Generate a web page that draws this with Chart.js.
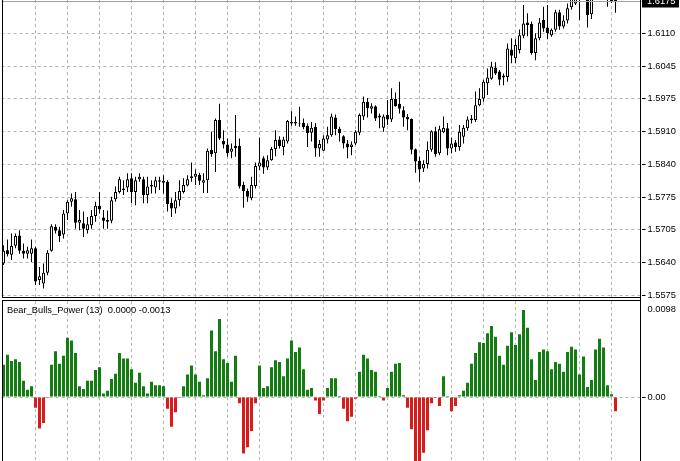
<!DOCTYPE html>
<html>
<head>
<meta charset="utf-8">
<script src="https://cdn.jsdelivr.net/npm/chart.js@4.4.0/dist/chart.umd.min.js"></script>
<style>
html, body { margin: 0; padding: 0; background: #fff; }
#wrap { position: relative; width: 680px; height: 461px; overflow: hidden; }
#priceChart { position: absolute; left: 0; top: 0; }
#powerChart { position: absolute; left: 0; top: 299px; }
</style>
</head>
<body>
<div id="wrap">
  <canvas id="priceChart" width="680" height="299"></canvas>
  <canvas id="powerChart" width="680" height="162"></canvas>
</div>
<script>
// Candles
const opens = [
  1.5640, 1.5667, 1.5658, 1.5676, 1.5697, 1.5666, 1.5660, 1.5660, 1.5671, 1.5606,
  1.5599, 1.5621, 1.5666, 1.5715, 1.5708, 1.5699, 1.5742, 1.5766, 1.5771, 1.5723,
  1.5722, 1.5708, 1.5718, 1.5737, 1.5758, 1.5734, 1.5729, 1.5727, 1.5771, 1.5786,
  1.5793, 1.5795, 1.5814, 1.5786, 1.5812, 1.5812, 1.5780, 1.5797, 1.5795, 1.5807,
  1.5809, 1.5807, 1.5764, 1.5752, 1.5769, 1.5786, 1.5799, 1.5814, 1.5817, 1.5821,
  1.5805, 1.5810, 1.5872, 1.5865, 1.5933, 1.5890, 1.5883, 1.5868, 1.5876, 1.5880,
  1.5800, 1.5788, 1.5773, 1.5798, 1.5838, 1.5855, 1.5836, 1.5851, 1.5874, 1.5893,
  1.5878, 1.5889, 1.5926, 1.5929, 1.5926, 1.5927, 1.5921, 1.5907, 1.5919, 1.5875,
  1.5870, 1.5893, 1.5902, 1.5938, 1.5915, 1.5900, 1.5885, 1.5878, 1.5885, 1.5907,
  1.5940, 1.5970, 1.5956, 1.5961, 1.5942, 1.5917, 1.5943, 1.5934, 1.5976, 1.5966,
  1.5953, 1.5939, 1.5935, 1.5873, 1.5850, 1.5834, 1.5843, 1.5872, 1.5910, 1.5865,
  1.5908, 1.5916, 1.5875, 1.5887, 1.5878, 1.5899, 1.5916, 1.5933, 1.5933, 1.5963,
  1.5977, 1.6008, 1.6017, 1.6040, 1.6032, 1.6020, 1.6021, 1.6077, 1.6059, 1.6076,
  1.6105, 1.6132, 1.6129, 1.6070, 1.6100, 1.6137, 1.6122, 1.6106, 1.6117, 1.6153,
  1.6124, 1.6136, 1.6163, 1.6171, 1.6195, 1.6190, 1.6195, 1.6149, 1.6190, 1.6200,
  1.6195, 1.6185, 1.6190, 1.6185
];
const highs = [
  1.5677, 1.5689, 1.5701, 1.5701, 1.5708, 1.5681, 1.5674, 1.5689, 1.5674, 1.5633,
  1.5640, 1.5667, 1.5720, 1.5720, 1.5715, 1.5749, 1.5769, 1.5783, 1.5786, 1.5749,
  1.5746, 1.5735, 1.5749, 1.5766, 1.5786, 1.5749, 1.5748, 1.5776, 1.5797, 1.5817,
  1.5810, 1.5824, 1.5824, 1.5817, 1.5824, 1.5817, 1.5817, 1.5810, 1.5817, 1.5817,
  1.5820, 1.5810, 1.5773, 1.5786, 1.5810, 1.5814, 1.5820, 1.5846, 1.5832, 1.5825,
  1.5824, 1.5875, 1.5909, 1.5936, 1.5966, 1.5912, 1.5895, 1.5885, 1.5943, 1.5895,
  1.5807, 1.5793, 1.5817, 1.5846, 1.5897, 1.5859, 1.5861, 1.5878, 1.5912, 1.5900,
  1.5899, 1.5933, 1.5951, 1.5940, 1.5960, 1.5936, 1.5926, 1.5929, 1.5927, 1.5892,
  1.5902, 1.5919, 1.5946, 1.5944, 1.5919, 1.5902, 1.5892, 1.5889, 1.5912, 1.5946,
  1.5981, 1.5978, 1.5967, 1.5963, 1.5946, 1.5944, 1.5974, 1.5998, 1.5989, 1.6011,
  1.5961, 1.5945, 1.5936, 1.5875, 1.5858, 1.5851, 1.5889, 1.5912, 1.5919, 1.5921,
  1.5940, 1.5927, 1.5897, 1.5892, 1.5923, 1.5923, 1.5940, 1.5943, 1.5991, 1.5998,
  1.6015, 1.6038, 1.6052, 1.6051, 1.6035, 1.6028, 1.6089, 1.6100, 1.6098, 1.6118,
  1.6168, 1.6151, 1.6134, 1.6110, 1.6141, 1.6164, 1.6168, 1.6120, 1.6158, 1.6158,
  1.6147, 1.6171, 1.6192, 1.6195, 1.6200, 1.6205, 1.6205, 1.6200, 1.6215, 1.6220,
  1.6212, 1.6210, 1.6200, 1.6190
];
const lows = [
  1.5637, 1.5654, 1.5647, 1.5671, 1.5660, 1.5650, 1.5650, 1.5643, 1.5596, 1.5596,
  1.5589, 1.5616, 1.5664, 1.5701, 1.5684, 1.5691, 1.5729, 1.5756, 1.5711, 1.5708,
  1.5694, 1.5701, 1.5711, 1.5725, 1.5742, 1.5711, 1.5711, 1.5722, 1.5766, 1.5783,
  1.5780, 1.5786, 1.5763, 1.5759, 1.5807, 1.5763, 1.5763, 1.5783, 1.5783, 1.5790,
  1.5783, 1.5746, 1.5735, 1.5742, 1.5757, 1.5783, 1.5797, 1.5807, 1.5800, 1.5800,
  1.5784, 1.5784, 1.5858, 1.5827, 1.5892, 1.5875, 1.5858, 1.5855, 1.5858, 1.5793,
  1.5754, 1.5766, 1.5769, 1.5793, 1.5831, 1.5823, 1.5831, 1.5850, 1.5859, 1.5875,
  1.5861, 1.5885, 1.5921, 1.5921, 1.5919, 1.5914, 1.5878, 1.5889, 1.5858, 1.5858,
  1.5870, 1.5885, 1.5899, 1.5902, 1.5889, 1.5875, 1.5855, 1.5861, 1.5882, 1.5902,
  1.5933, 1.5938, 1.5946, 1.5931, 1.5916, 1.5909, 1.5923, 1.5929, 1.5960, 1.5946,
  1.5919, 1.5912, 1.5863, 1.5825, 1.5807, 1.5827, 1.5834, 1.5868, 1.5858, 1.5861,
  1.5906, 1.5861, 1.5865, 1.5868, 1.5870, 1.5885, 1.5911, 1.5926, 1.5929, 1.5961,
  1.5970, 1.5984, 1.6015, 1.6025, 1.6004, 1.6004, 1.6011, 1.6049, 1.6049, 1.6069,
  1.6100, 1.6104, 1.6066, 1.6055, 1.6096, 1.6113, 1.6098, 1.6103, 1.6113, 1.6117,
  1.6120, 1.6130, 1.6158, 1.6168, 1.6137, 1.6182, 1.6122, 1.6139, 1.6185, 1.6190,
  1.6185, 1.6164, 1.6172, 1.6152
];
const closes = [
  1.5666, 1.5659, 1.5676, 1.5696, 1.5666, 1.5660, 1.5667, 1.5671, 1.5603, 1.5614,
  1.5621, 1.5662, 1.5716, 1.5707, 1.5696, 1.5742, 1.5766, 1.5773, 1.5723, 1.5729,
  1.5711, 1.5720, 1.5737, 1.5758, 1.5750, 1.5727, 1.5725, 1.5769, 1.5786, 1.5812,
  1.5790, 1.5812, 1.5786, 1.5810, 1.5817, 1.5780, 1.5797, 1.5800, 1.5810, 1.5810,
  1.5805, 1.5761, 1.5752, 1.5769, 1.5788, 1.5800, 1.5812, 1.5818, 1.5823, 1.5809,
  1.5810, 1.5870, 1.5863, 1.5933, 1.5895, 1.5883, 1.5865, 1.5875, 1.5880, 1.5797,
  1.5788, 1.5776, 1.5800, 1.5839, 1.5846, 1.5836, 1.5851, 1.5874, 1.5892, 1.5880,
  1.5893, 1.5931, 1.5929, 1.5926, 1.5927, 1.5918, 1.5906, 1.5917, 1.5875, 1.5884,
  1.5895, 1.5902, 1.5940, 1.5914, 1.5906, 1.5885, 1.5877, 1.5883, 1.5909, 1.5943,
  1.5970, 1.5957, 1.5961, 1.5936, 1.5938, 1.5940, 1.5934, 1.5976, 1.5961, 1.5956,
  1.5938, 1.5934, 1.5872, 1.5848, 1.5832, 1.5843, 1.5872, 1.5910, 1.5863, 1.5914,
  1.5917, 1.5875, 1.5885, 1.5878, 1.5909, 1.5917, 1.5934, 1.5936, 1.5963, 1.5976,
  1.6011, 1.6020, 1.6042, 1.6028, 1.6015, 1.6024, 1.6079, 1.6064, 1.6086, 1.6106,
  1.6130, 1.6127, 1.6070, 1.6100, 1.6132, 1.6120, 1.6110, 1.6117, 1.6153, 1.6124,
  1.6136, 1.6161, 1.6185, 1.6185, 1.6182, 1.6200, 1.6147, 1.6190, 1.6205, 1.6210,
  1.6200, 1.6195, 1.6175, 1.6176
];

// Bear_Bulls_Power (13) histogram
const power = [
  0.0036, 0.0047, 0.0040, 0.0042, 0.0039, 0.0018, 0.0008, 0.0012, -0.0012, -0.0035,
  -0.0029, -0.0001, 0.0036, 0.0051, 0.0037, 0.0046, 0.0066, 0.0063, 0.0049, 0.0012,
  0.0009, 0.0018, 0.0018, 0.0030, 0.0033, 0.0004, 0.0007, 0.0020, 0.0026, 0.0049,
  0.0043, 0.0043, 0.0031, 0.0016, 0.0027, 0.0012, 0.0004, 0.0017, 0.0013, 0.0013,
  0.0012, -0.0013, -0.0033, -0.0017, -0.0001, 0.0012, 0.0025, 0.0035, 0.0025, 0.0017,
  0.0002, 0.0021, 0.0074, 0.0051, 0.0087, 0.0042, 0.0038, 0.0017, 0.0046, -0.0007,
  -0.0063, -0.0056, -0.0038, -0.0007, 0.0035, 0.0010, 0.0012, 0.0033, 0.0041, 0.0039,
  0.0023, 0.0043, 0.0063, 0.0050, 0.0055, 0.0031, 0.0008, 0.0010, -0.0004, -0.0019,
  -0.0004, 0.0010, 0.0021, 0.0021, 0.0001, -0.0013, -0.0027, -0.0022, -0.0002, 0.0028,
  0.0047, 0.0043, 0.0030, 0.0028, 0.0001, -0.0004, 0.0010, 0.0028, 0.0037, 0.0038,
  0.0002, -0.0012, -0.0036, -0.0078, -0.0085, -0.0062, -0.0037, -0.0007, -0.0001, -0.0010,
  0.0023, 0.0001, -0.0016, -0.0010, 0.0002, 0.0007, 0.0016, 0.0037, 0.0049, 0.0061,
  0.0060, 0.0071, 0.0079, 0.0067, 0.0046, 0.0036, 0.0057, 0.0072, 0.0058, 0.0070,
  0.0097, 0.0077, 0.0042, 0.0019, 0.0050, 0.0053, 0.0051, 0.0031, 0.0039, 0.0037,
  0.0028, 0.0050, 0.0056, 0.0053, 0.0025, 0.0045, 0.0011, 0.0019, 0.0053, 0.0065,
  0.0055, 0.0013, 0.0003, -0.0016
];

// Axis ticks
const priceTicks = [1.5575, 1.5641875, 1.570875, 1.5775625, 1.58425, 1.5909375, 1.597625, 1.6043125, 1.611];
const priceLabels = ['1.5575', '1.5640', '1.5705', '1.5775', '1.5840', '1.5910', '1.5975', '1.6045', '1.6110'];
const bidPrice = 1.6175;
const bidLabel = '1.6175';
const powerTicks = [0, 0.0098];
const powerLabels = ['0.00', '0.0098'];
const powerTitle = 'Bear_Bulls_Power (13)  0.0000 -0.0013';

const shift = 6; // empty space right of the last bar
const bars = [];
for (let i = 0; i < closes.length + shift; i++) bars.push(i + 1);

const gridColor = '#b4b4b4';
const labelFont = { family: 'Liberation Sans', size: 9.3 };
const fontCss = '9.3px "Liberation Sans"';

// x axis shared by both panels: grid line every 8 bars
function barAxis() {
    return {
        type: 'category',
        offset: true,
        ticks: { display: false },
        grid: { offset: false, color: gridColor, drawTicks: false },
        border: { display: false, dash: [3, 3] },
        afterBuildTicks: function (axis) {
            axis.ticks = axis.ticks.filter(function (t) { return t.value % 8 === 0 && t.value > 0 && t.value < closes.length; });
        },
        afterFit: function (axis) { axis.height = 0; }
    };
}

function valueAxis(min, max, ticks, labels, opts) {
    return {
        position: 'right',
        min: min,
        max: max,
        afterBuildTicks: function (axis) {
            axis.ticks = ticks.map(function (v) { return { value: v }; });
        },
        afterFit: function (axis) {
            axis.width = 38.5;
            axis.paddingTop = 0;
            axis.paddingBottom = 0;
        },
        ticks: {
            padding: 2,
            color: '#000',
            font: labelFont,
            callback: function (v, i) { return labels[i]; }
        },
        grid: Object.assign({ color: gridColor, tickColor: '#000', tickLength: 4, tickBorderDash: [] }, opts || {}),
        border: { display: false, dash: [3, 3] }
    };
}

function line(ctx, x1, y1, x2, y2) {
    ctx.beginPath();
    ctx.moveTo(x1, y1);
    ctx.lineTo(x2, y2);
    ctx.stroke();
}

// Frame, bid line and label for the price panel
const priceFrame = {
    id: 'priceFrame',
    afterDraw: function (chart) {
        const ctx = chart.ctx;
        const a = chart.chartArea;
        const y = Math.round(chart.scales.y.getPixelForValue(bidPrice)) + 0.5;
        ctx.save();
        ctx.lineWidth = 1;
        ctx.strokeStyle = '#a0a0a0';
        line(ctx, a.left, y, a.right, y);
        ctx.strokeStyle = '#000';
        line(ctx, 2.5, 0, 2.5, 298);
        line(ctx, 2, 297.5, 641, 297.5);
        line(ctx, 640.5, 0, 640.5, 299);
        ctx.fillStyle = '#000';
        ctx.fillRect(642, y - 12, 37, 18);
        ctx.fillStyle = '#fff';
        ctx.font = fontCss;
        ctx.textBaseline = 'middle';
        ctx.fillText(bidLabel, 647, y);
        ctx.restore();
    }
};

const powerFrame = {
    id: 'powerFrame',
    afterDraw: function (chart) {
        const ctx = chart.ctx;
        ctx.save();
        ctx.lineWidth = 1;
        ctx.strokeStyle = '#000';
        line(ctx, 2, 1.5, 641, 1.5);
        line(ctx, 2.5, 1, 2.5, 162);
        line(ctx, 640.5, 0, 640.5, 162);
        ctx.fillStyle = '#000';
        ctx.font = fontCss;
        ctx.textBaseline = 'middle';
        ctx.fillText(powerTitle, 7, 11);
        ctx.restore();
    }
};

// Price chart
const ctx1 = document.getElementById('priceChart').getContext('2d');
const priceChart = new Chart(ctx1, {
    type: 'bar',
    data: {
        labels: bars,
        datasets: [{
            label: 'Body',
            data: opens.map(function (o, i) { return [o, closes[i]]; }),
            backgroundColor: opens.map(function (o, i) { return closes[i] >= o ? '#fff' : '#000'; }),
            borderColor: '#000',
            borderWidth: 1,
            borderSkipped: false,
            barThickness: 3,
            grouped: false,
            inflateAmount: 0
        }, {
            label: 'Wick',
            data: lows.map(function (l, i) { return [l, highs[i]]; }),
            backgroundColor: '#000',
            borderWidth: 0,
            barThickness: 1,
            grouped: false,
            inflateAmount: 0
        }]
    },
    options: {
        responsive: false,
        animation: false,
        events: [],
        layout: { padding: { left: 1.5, right: 0, top: 0, bottom: 1 } },
        plugins: { legend: { display: false }, tooltip: { enabled: false } },
        scales: {
            x: barAxis(),
            y: valueAxis(1.556949, 1.6178, priceTicks, priceLabels)
        }
    },
    plugins: [priceFrame]
});

// Bear_Bulls_Power chart
const ctx2 = document.getElementById('powerChart').getContext('2d');
const powerChart = new Chart(ctx2, {
    type: 'bar',
    data: {
        labels: bars,
        datasets: [{
            label: 'Bear_Bulls_Power',
            data: power,
            backgroundColor: power.map(function (v) { return v >= 0 ? '#137d13' : '#d81c1c'; }),
            borderWidth: 0,
            barThickness: 3,
            inflateAmount: 0
        }]
    },
    options: {
        responsive: false,
        animation: false,
        events: [],
        layout: { padding: { left: 1.5, right: 0, top: 2, bottom: 0 } },
        plugins: { legend: { display: false }, tooltip: { enabled: false } },
        scales: {
            x: barAxis(),
            y: valueAxis(-0.0071273, 0.010691, powerTicks, powerLabels, {
                color: function (c) { return c.tick && c.tick.value === 0 ? gridColor : 'rgba(0,0,0,0)'; },
                tickColor: function (c) { return c.tick && c.tick.value === 0 ? '#000' : 'rgba(0,0,0,0)'; }
            })
        }
    },
    plugins: [powerFrame]
});
</script>
</body>
</html>
